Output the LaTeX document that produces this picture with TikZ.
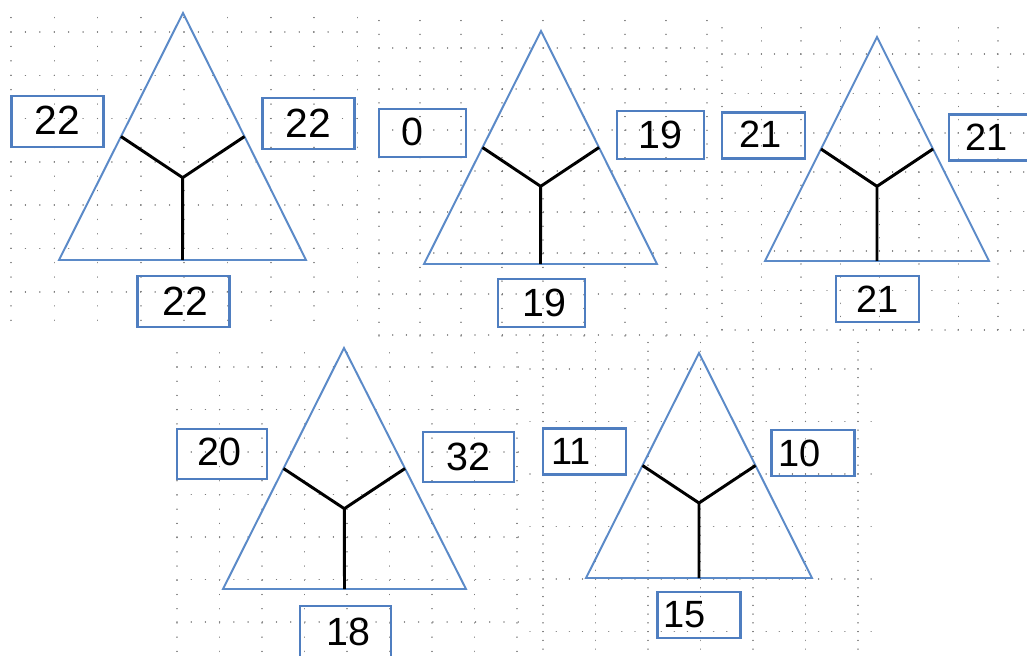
\documentclass[tikz,border=0pt]{standalone}
\usepackage{fontspec}
\setmainfont{Liberation Sans}
\usetikzlibrary{calc}
\definecolor{triblue}{HTML}{5B8AC8}
\definecolor{boxblue}{HTML}{4F7EC0}
\definecolor{dotgray}{HTML}{7A7A7A}

\begin{document}
\begin{tikzpicture}[
  x=0.025cm, y=-0.025cm,
  tri/.style={draw=triblue, line width=1.4pt},
  yleg/.style={draw=black, line width=2.1pt},
  griddot/.style={draw=dotgray, line width=1pt, line cap=round, dash pattern=on 0.01pt off #1},
  numbox/.style={draw=boxblue, line width=1.6pt, inner sep=0pt},
  bigbox/.style={numbox, minimum width=2.3cm, minimum height=1.27cm, font=\fontsize{29}{32}\selectfont},
  midbox/.style={numbox, minimum width=2.18cm, minimum height=1.2cm, font=\fontsize{28}{32}\selectfont},
  smallbox/.style={numbox, minimum width=2.08cm, minimum height=1.15cm, font=\fontsize{27}{30}\selectfont}
]
  \useasboundingbox (0,0) rectangle (1027,656);
  \clip (0,0) rectangle (1027,656);
  \fill[white] (0,0) rectangle (1027,656);

  % dotted grids of the five panels
  \foreach \gx in {11,54.3,...,358} \draw[griddot=10.24pt] (\gx,17.6) -- (\gx,323);
  \foreach \gy in {32,75.3,...,323} \draw[griddot=10.24pt] (11,\gy) -- (358,\gy);
  \foreach \gx in {379,420,...,708} \draw[griddot=9.74pt] (\gx,20.6) -- (\gx,338);
  \foreach \gy in {48,89,...,338} \draw[griddot=9.74pt] (379,\gy) -- (708,\gy);
  \foreach \gx in {722,761.4,...,1027} \draw[griddot=9.32pt] (\gx,27.8) -- (\gx,330);
  \foreach \gy in {54,93.4,...,331} \draw[griddot=9.32pt] (722,\gy) -- (1027,\gy);
  \foreach \gx in {177,219.5,...,520} \draw[griddot=10.1pt] (\gx,352.8) -- (\gx,656);
  \foreach \gy in {367,409.5,...,656} \draw[griddot=10.1pt] (177,\gy) -- (520,\gy);
  \foreach \gx in {543,595.5,...,860} \draw[griddot=6.22pt] (\gx,342.5) -- (\gx,656);
  \foreach \gy in {369,421.5,...,656} \draw[griddot=9.32pt] (530,\gy) -- (877,\gy);

  % panel 1
  \coordinate (a1) at (183,13); \coordinate (b1) at (59,260); \coordinate (c1) at (306,260);
  \coordinate (m1) at (barycentric cs:a1=1,b1=1,c1=1);
  \draw[tri] (a1) -- (b1) -- (c1) -- cycle;
  \draw[yleg] ($(a1)!0.5!(b1)$) -- (m1) -- ($(a1)!0.5!(c1)$) (m1) -- ($(b1)!0.5!(c1)$);
  \node[bigbox] (l1) at (57.5,121.5) {\raisebox{2pt}{22}};
  \node[bigbox] (r1) at (308.5,123.5) {22};
  \node[bigbox] (u1) at (183.5,301.5) {\kern3pt 22};

  % panel 2
  \coordinate (a2) at (541,31); \coordinate (b2) at (424,264); \coordinate (c2) at (657,264);
  \coordinate (m2) at (barycentric cs:a2=1,b2=1,c2=1);
  \draw[tri] (a2) -- (b2) -- (c2) -- cycle;
  \draw[yleg] ($(a2)!0.5!(b2)$) -- (m2) -- ($(a2)!0.5!(c2)$) (m2) -- ($(b2)!0.5!(c2)$);
  \node[midbox] (l2) at (422.5,133) {\raisebox{2pt}{0}\kern15pt};
  \node[midbox] (r2) at (660.5,135) {19};
  \node[midbox] (u2) at (541.5,303) {\kern4pt 19};

  % panel 3
  \coordinate (a3) at (877,37); \coordinate (b3) at (765,261); \coordinate (c3) at (989,261);
  \coordinate (m3) at (barycentric cs:a3=1,b3=1,c3=1);
  \draw[tri] (a3) -- (b3) -- (c3) -- cycle;
  \draw[yleg] ($(a3)!0.5!(b3)$) -- (m3) -- ($(a3)!0.5!(c3)$) (m3) -- ($(b3)!0.5!(c3)$);
  \node[smallbox] (l3) at (763.5,135.5) {\raisebox{2pt}{21}\kern4pt};
  \node[smallbox] (r3) at (990.5,137.5) {21\kern5pt};
  \node[smallbox] (u3) at (877.5,299) {21};

  % panel 4
  \coordinate (a4) at (344,348); \coordinate (b4) at (223,589); \coordinate (c4) at (466,589);
  \coordinate (m4) at (barycentric cs:a4=1,b4=1,c4=1);
  \draw[tri] (a4) -- (b4) -- (c4) -- cycle;
  \draw[yleg] ($(a4)!0.5!(b4)$) -- (m4) -- ($(a4)!0.5!(c4)$) (m4) -- ($(b4)!0.5!(c4)$);
  \node[midbox, minimum width=2.25cm, minimum height=1.25cm] (l4) at (222,454) {\raisebox{3pt}{20}\kern3pt};
  \node[midbox, minimum width=2.28cm, minimum height=1.25cm] (r4) at (468.5,457) {32};
  \node[midbox, minimum width=2.28cm, minimum height=1.3cm] (u4) at (345.5,632) {\kern4pt 18};

  % panel 5
  \coordinate (a5) at (699,353); \coordinate (b5) at (586,578); \coordinate (c5) at (812,578);
  \coordinate (m5) at (barycentric cs:a5=1,b5=1,c5=1);
  \draw[tri] (a5) -- (b5) -- (c5) -- cycle;
  \draw[yleg] ($(a5)!0.5!(b5)$) -- (m5) -- ($(a5)!0.5!(c5)$) (m5) -- ($(b5)!0.5!(c5)$);
  \node[smallbox] (l5) at (584.5,451.5) {11\kern19pt};
  \node[smallbox] (r5) at (813,453) {10\kern18.5pt};
  \node[smallbox] (u5) at (699,615) {15\kern21pt};
\end{tikzpicture}
\end{document}
